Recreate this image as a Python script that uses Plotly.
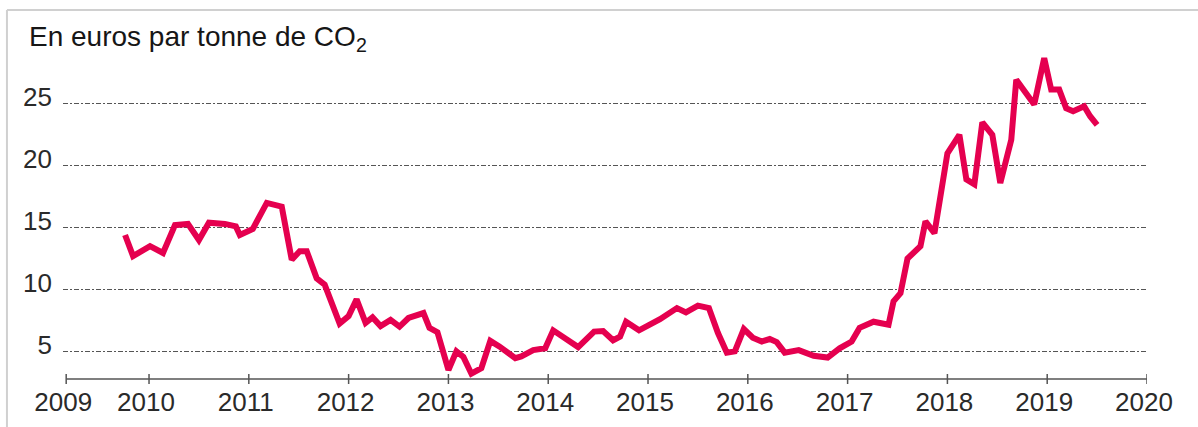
import plotly.graph_objects as go

# Monthly-ish observations (decimal year, EUR per tonne of CO2)
years = [
    2009.76, 2009.84, 2010.01, 2010.14, 2010.26, 2010.39, 2010.50, 2010.60, 2010.76, 2010.87,
    2010.91, 2011.04, 2011.18, 2011.33, 2011.43, 2011.51, 2011.58, 2011.68, 2011.76, 2011.91,
    2012.00, 2012.08, 2012.17, 2012.24, 2012.32, 2012.42, 2012.51, 2012.60, 2012.75, 2012.81,
    2012.89, 2013.00, 2013.08, 2013.15, 2013.23, 2013.33, 2013.42, 2013.51, 2013.67, 2013.73,
    2013.85, 2013.97, 2014.05, 2014.15, 2014.30, 2014.46, 2014.55, 2014.65, 2014.72, 2014.78,
    2014.91, 2015.12, 2015.29, 2015.38, 2015.50, 2015.61, 2015.70, 2015.79, 2015.87, 2015.96,
    2016.05, 2016.14, 2016.22, 2016.29, 2016.37, 2016.51, 2016.66, 2016.80, 2016.92, 2017.04,
    2017.12, 2017.26, 2017.41, 2017.46, 2017.53, 2017.60, 2017.73, 2017.78, 2017.87, 2018.00,
    2018.12, 2018.19, 2018.27, 2018.35, 2018.45, 2018.53, 2018.64, 2018.69, 2018.77, 2018.87,
    2018.97, 2019.04, 2019.12, 2019.19, 2019.26, 2019.37, 2019.43, 2019.50,
]
prices = [
    14.4, 12.7, 13.5, 12.95, 15.2, 15.3, 14.0, 15.4, 15.3, 15.1,
    14.4, 14.9, 17.0, 16.7, 12.4, 13.1, 13.1, 10.9, 10.4, 7.25,
    7.85, 9.2, 7.3, 7.75, 7.05, 7.55, 7.0, 7.7, 8.1, 6.9,
    6.55, 3.5, 5.0, 4.55, 3.2, 3.65, 5.85, 5.4, 4.45, 4.6,
    5.1, 5.25, 6.7, 6.1, 5.35, 6.6, 6.65, 5.9, 6.2, 7.4,
    6.7, 7.6, 8.5, 8.15, 8.7, 8.5, 6.5, 4.9, 5.0, 6.8,
    6.1, 5.8, 6.0, 5.75, 4.9, 5.1, 4.65, 4.5, 5.25, 5.8,
    6.9, 7.4, 7.15, 9.05, 9.7, 12.5, 13.5, 15.5, 14.55, 21.0,
    22.5, 18.9, 18.5, 23.5, 22.5, 18.6, 22.1, 26.95, 26.0, 24.95,
    28.7, 26.15, 26.15, 24.65, 24.4, 24.8, 24.0, 23.3,
]

x_tick_positions = [2009.17, 2010, 2011, 2012, 2013, 2014, 2015, 2016, 2017, 2018, 2019, 2020]
x_tick_labels = ["2009", "2010", "2011", "2012", "2013", "2014", "2015", "2016", "2017", "2018", "2019", "2020"]
y_tick_values = [5, 10, 15, 20, 25]
title_text = "En euros par tonne de CO<sub>2</sub>"

LINE_COLOR = "#E5004F"
AXIS_COLOR = "#555555"
TEXT_COLOR = "#2a2a2a"
FONT = "Liberation Sans, Arial, sans-serif"

fig = go.Figure()
fig.add_trace(go.Scatter(
    x=years, y=prices, mode="lines",
    line=dict(color=LINE_COLOR, width=6),
    hoverinfo="skip",
))

fig.update_layout(
    width=1198, height=427,
    margin=dict(l=63, r=51, t=50, b=48, autoexpand=False),
    paper_bgcolor="white", plot_bgcolor="white",
    showlegend=False,
    font=dict(family=FONT, size=26, color=TEXT_COLOR),
)

fig.update_xaxes(
    range=[2009.138, 2020.0], automargin=False,
    tickmode="array", tickvals=x_tick_positions, ticktext=x_tick_labels,
    showgrid=False, zeroline=False, showline=False, ticks="",
    tickfont=dict(family=FONT, size=26, color=TEXT_COLOR),
    ticklabelstandoff=5, ticklabelshift=-3,
)
fig.update_yaxes(
    range=[2.77, 29.35], automargin=False,
    tickmode="array", tickvals=y_tick_values,
    showgrid=True, gridcolor=AXIS_COLOR, gridwidth=1, griddash="5px,2px,2px,2px",
    zeroline=False, showline=False, ticks="",
    tickfont=dict(family=FONT, size=26, color=TEXT_COLOR),
    ticklabelstandoff=10, ticklabelshift=-7,
)

# x axis baseline from first to last tick, with ticks crossing it
fig.add_shape(type="line", xref="x", yref="paper",
              x0=x_tick_positions[0], x1=x_tick_positions[-1], y0=0, y1=0,
              line=dict(color=AXIS_COLOR, width=1.5), layer="above")
for tv in x_tick_positions:
    fig.add_shape(type="line", xref="x", yref="paper", ysizemode="pixel", yanchor=0,
                  x0=tv, x1=tv, y0=-5, y1=5,
                  line=dict(color=AXIS_COLOR, width=1.5), layer="above")

# light frame (top and left edges)
fig.add_shape(type="line", xref="paper", yref="paper",
              x0=-0.0517, x1=1.2, y0=1.1216, y1=1.1216,
              line=dict(color="#d0d0d0", width=2), layer="below")
fig.add_shape(type="line", xref="paper", yref="paper",
              x0=-0.0517, x1=-0.0517, y0=1.1216, y1=-0.3,
              line=dict(color="#d0d0d0", width=2), layer="below")

fig.add_annotation(
    text=title_text, xref="paper", yref="paper",
    x=-0.0332, y=1.0355, xanchor="left", yanchor="middle",
    showarrow=False, font=dict(family=FONT, size=28, color="#161616"),
)

fig.write_html(
    "out.html",
    config={"displayModeBar": False},
    post_script="document.body.style.margin='0';document.body.style.overflow='hidden';",
)
